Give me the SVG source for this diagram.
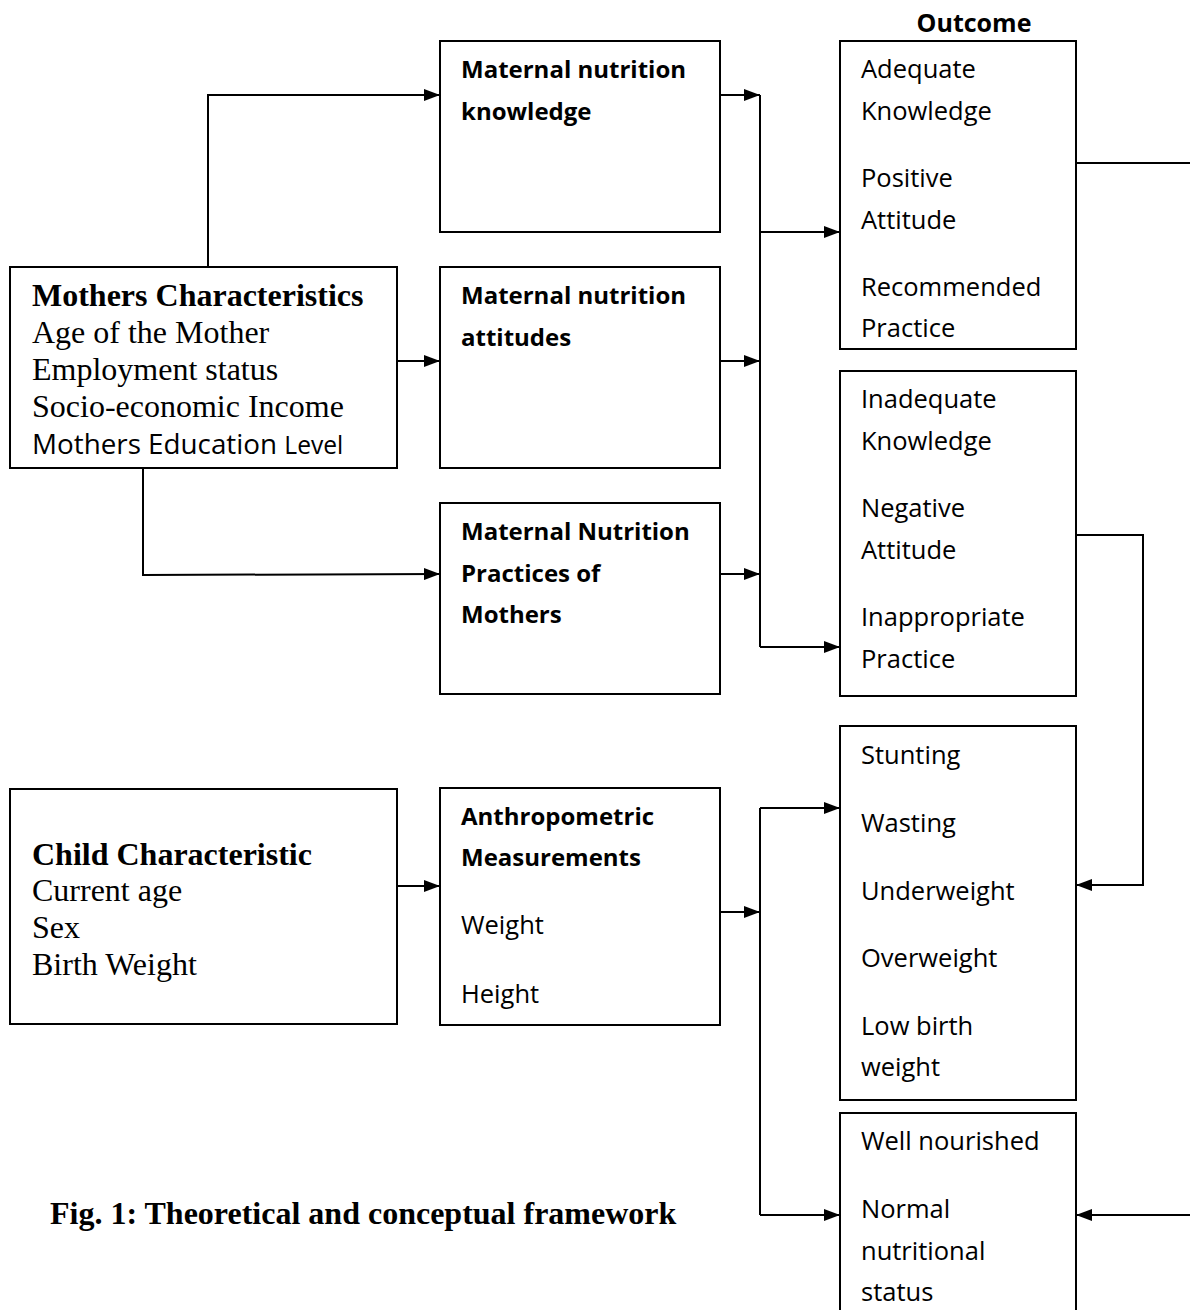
<svg xmlns="http://www.w3.org/2000/svg" width="1190" height="1310" viewBox="0 0 1190 1310">
<style>
.box{fill:#fff;stroke:#000;stroke-width:2}
.ln{fill:none;stroke:#000;stroke-width:2}
.s{font-family:"Open Sans","Liberation Sans",sans-serif;font-size:25.5px;fill:#000}
.b{font-weight:bold;font-size:24px}
.t{font-family:"Liberation Serif","Times New Roman",serif;font-size:32px;fill:#000}
.tb{font-weight:bold}
</style>
<defs>
<marker id="ah" viewBox="0 0 16 12" refX="16" refY="6" markerWidth="16" markerHeight="12" markerUnits="userSpaceOnUse" orient="auto">
<path d="M0,0 L16,6 L0,12 Z" fill="#000"/>
</marker>
</defs>
<rect width="1190" height="1310" fill="#fff"/>
<g id="connectors">
<polyline class="ln" points="208,267 208,95 440,95" marker-end="url(#ah)"/>
<line class="ln" x1="720" y1="95" x2="760" y2="95" marker-end="url(#ah)"/>
<line class="ln" x1="760" y1="95" x2="760" y2="647"/>
<line class="ln" x1="760" y1="232" x2="840" y2="232" marker-end="url(#ah)"/>
<line class="ln" x1="397" y1="361" x2="440" y2="361" marker-end="url(#ah)"/>
<line class="ln" x1="720" y1="361" x2="760" y2="361" marker-end="url(#ah)"/>
<polyline class="ln" points="143,468 143,575 440,574" marker-end="url(#ah)"/>
<line class="ln" x1="720" y1="574" x2="760" y2="574" marker-end="url(#ah)"/>
<line class="ln" x1="760" y1="647" x2="840" y2="647" marker-end="url(#ah)"/>
<line class="ln" x1="1076" y1="163" x2="1190" y2="163"/>
<polyline class="ln" points="1076,535 1143,535 1143,885 1076,885" marker-end="url(#ah)"/>
<line class="ln" x1="397" y1="886" x2="440" y2="886" marker-end="url(#ah)"/>
<line class="ln" x1="720" y1="912" x2="760" y2="912" marker-end="url(#ah)"/>
<line class="ln" x1="760" y1="808" x2="760" y2="1215"/>
<line class="ln" x1="760" y1="808" x2="840" y2="808" marker-end="url(#ah)"/>
<line class="ln" x1="760" y1="1215" x2="840" y2="1215" marker-end="url(#ah)"/>
<line class="ln" x1="1190" y1="1215" x2="1076" y2="1215" marker-end="url(#ah)"/>
</g>
<g id="mothers">
<rect class="box" x="10" y="267" width="387" height="201"/>
<text class="t tb" x="32" y="306">Mothers Characteristics</text>
<text class="t" x="32" y="343">Age of the Mother</text>
<text class="t" x="32" y="380">Employment status</text>
<text class="t" x="32" y="417">Socio-economic Income</text>
<text class="s" x="32" y="454" style="font-size:27.8px">Mothers Education <tspan style="font-size:24.6px">Level</tspan></text>
</g>
<g id="knowledge">
<rect class="box" x="440" y="41" width="280" height="191"/>
<text class="s b" x="461" y="78">Maternal nutrition</text>
<text class="s b" x="461" y="120">knowledge</text>
</g>
<g id="attitudes">
<rect class="box" x="440" y="267" width="280" height="201"/>
<text class="s b" x="461" y="304">Maternal nutrition</text>
<text class="s b" x="461" y="346">attitudes</text>
</g>
<g id="practices">
<rect class="box" x="440" y="503" width="280" height="191"/>
<text class="s b" x="461" y="540">Maternal Nutrition</text>
<text class="s b" x="461" y="582">Practices of</text>
<text class="s b" x="461" y="623">Mothers</text>
</g>
<g id="child">
<rect class="box" x="10" y="789" width="387" height="235"/>
<text class="t tb" x="32" y="865">Child Characteristic</text>
<text class="t" x="32" y="901">Current age</text>
<text class="t" x="32" y="938">Sex</text>
<text class="t" x="32" y="975">Birth Weight</text>
</g>
<g id="anthropometric">
<rect class="box" x="440" y="788" width="280" height="237"/>
<text class="s b" x="461" y="825">Anthropometric</text>
<text class="s b" x="461" y="866">Measurements</text>
<text class="s" x="461" y="934">Weight</text>
<text class="s" x="461" y="1003">Height</text>
</g>
<g id="outcome-title">
<text class="s b" x="974" y="32" text-anchor="middle" style="font-size:25px">Outcome</text>
</g>
<g id="outcome-positive">
<rect class="box" x="840" y="41" width="236" height="308"/>
<text class="s" x="861" y="78">Adequate</text>
<text class="s" x="861" y="120">Knowledge</text>
<text class="s" x="861" y="187">Positive</text>
<text class="s" x="861" y="229">Attitude</text>
<text class="s" x="861" y="296">Recommended</text>
<text class="s" x="861" y="337">Practice</text>
</g>
<g id="outcome-negative">
<rect class="box" x="840" y="371" width="236" height="325"/>
<text class="s" x="861" y="408">Inadequate</text>
<text class="s" x="861" y="450">Knowledge</text>
<text class="s" x="861" y="517">Negative</text>
<text class="s" x="861" y="559">Attitude</text>
<text class="s" x="861" y="626">Inappropriate</text>
<text class="s" x="861" y="668">Practice</text>
</g>
<g id="outcome-malnutrition">
<rect class="box" x="840" y="726" width="236" height="374"/>
<text class="s" x="861" y="764">Stunting</text>
<text class="s" x="861" y="832">Wasting</text>
<text class="s" x="861" y="900">Underweight</text>
<text class="s" x="861" y="967">Overweight</text>
<text class="s" x="861" y="1035">Low birth</text>
<text class="s" x="861" y="1076">weight</text>
</g>
<g id="outcome-normal">
<rect class="box" x="840" y="1113" width="236" height="210"/>
<text class="s" x="861" y="1150">Well nourished</text>
<text class="s" x="861" y="1218">Normal</text>
<text class="s" x="861" y="1260">nutritional</text>
<text class="s" x="861" y="1301">status</text>
</g>
<g id="caption">
<text class="t tb" x="50" y="1224">Fig. 1: Theoretical and conceptual framework</text>
</g>
</svg>
